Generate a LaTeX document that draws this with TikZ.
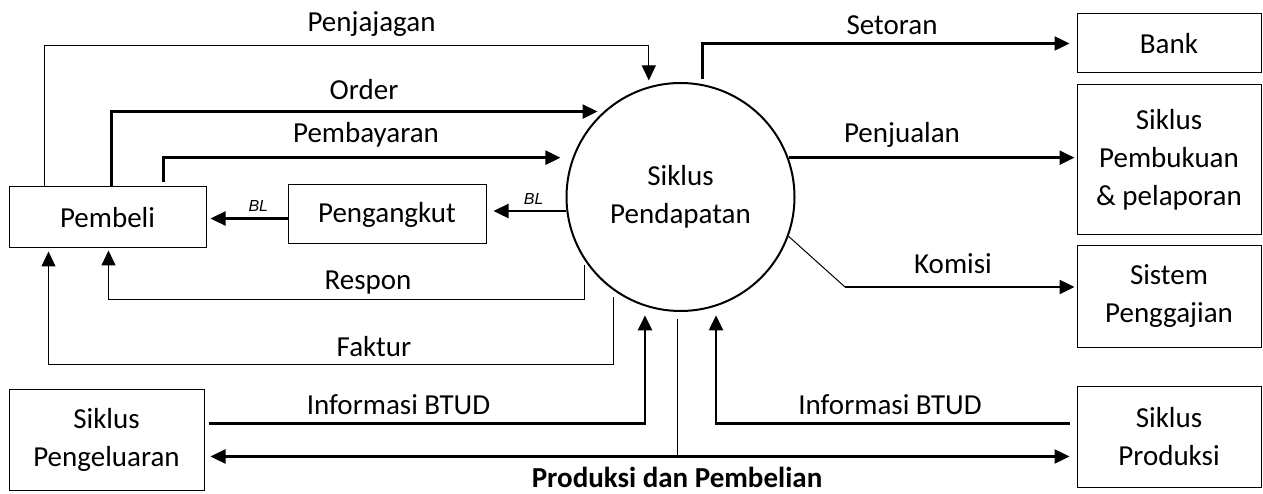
\documentclass[tikz,border=0pt]{standalone}
\usepackage{fontspec}
\setmainfont{Carlito}
\newfontfamily\blfont{Liberation Sans}
\usepackage{tikz}
\usetikzlibrary{arrows.meta, calc}

\begin{document}
\begin{tikzpicture}[x=1pt, y=-1pt,
    box/.style={draw, line width=1pt, inner sep=0pt, align=center, font=\fontsize{29}{38}\selectfont},
    thinline/.style={line width=1pt},
    thickline/.style={line width=2.4pt},
    arr/.style={-{Triangle[length=15pt,width=14pt]}},
    arrboth/.style={{Triangle[length=15pt,width=14pt]}-{Triangle[length=15pt,width=14pt]}},
    lbl/.style={anchor=base, inner sep=0pt, font=\fontsize{29}{35}\selectfont},
    bl/.style={inner sep=0pt, font=\blfont\itshape\fontsize{16}{18}\selectfont}]
  \useasboundingbox (0,0) rectangle (1263,494);

  % entities
  \node[box, minimum width=197pt, minimum height=61pt] (pembeli) at (107.5,217.5) {Pembeli};
  \node[box, minimum width=198pt, minimum height=59pt] (angkut) at (387,214.5) {Pengangkut};
  \node[box, minimum width=195pt, minimum height=101pt] (keluar) at (106.5,439.5) {Siklus\\Pengeluaran};
  \node[box, minimum width=184pt, minimum height=59pt] (bank) at (1169,43.5) {Bank};
  \node[box, minimum width=184pt, minimum height=150pt] (buku) at (1169,160) {Siklus\\Pembukuan\\\& pelaporan};
  \node[box, minimum width=184pt, minimum height=101pt] (gaji) at (1169,296.5) {Sistem\\Penggajian};
  \node[box, minimum width=184pt, minimum height=101pt] (produksi) at (1169,436.5) {Siklus\\Produksi};
  \node[box, circle, line width=2pt, minimum size=228pt] (siklus) at (680.5,197) {Siklus\\Pendapatan};

  % flows to and from Pembeli
  \draw[thinline, arr, shorten >=6pt] ([xshift=36pt]pembeli.north west) |- ([yshift=41pt]siklus.106) -- (siklus.106);
  \draw[thickline, arr, shorten >=6pt] ([xshift=103pt]pembeli.north west) |- (siklus.132);
  \draw[thickline, arr, shorten >=12pt] ([xshift=155pt,yshift=4pt]pembeli.north west) |- (siklus.160);
  \draw[thickline, arr, shorten >=4pt] ([yshift=-4pt]angkut.west) -- ([yshift=-4pt]angkut.west -| pembeli.east)
    node[bl, pos=0.36, above=6pt] (bl1) {BL};
  \draw[thickline, arr, shorten >=7pt] (siklus.187) -- (siklus.187 -| angkut.east)
    node[bl, pos=0.41, above=5pt] (bl2) {BL};
  \draw[thinline, arr, shorten >=2pt] ([xshift=-3pt]siklus.216) -- ++(0,35) -| ([xshift=100pt]pembeli.south west);
  \draw[thinline, arr, shorten >=3pt] ([xshift=-3pt,yshift=-5pt]siklus.236) -- ++(0,67) -| ([xshift=40pt]pembeli.south west);

  % flows to the right
  \draw[thickline, arr, shorten >=7pt] ([yshift=5pt]siklus.79) |- (bank.west);
  \draw[thickline, arr, shorten >=2pt] (siklus.20) -- (siklus.20 -| buku.west);
  \coordinate (kom) at (845,287);
  \draw[thinline] (siklus.340) -- (kom);
  \draw[thickline, arr, shorten >=2pt] (kom) -- (kom -| gaji.west);

  % flows at the bottom
  \draw[thickline, arr, shorten >=9pt] ([xshift=4pt,yshift=16pt]keluar.east) -| (siklus.252);
  \draw[thickline, arr, shorten >=9pt] ([xshift=-7pt,yshift=13pt]produksi.west) -| (siklus.288);
  \coordinate (pp) at ([xshift=6pt,yshift=-17pt]keluar.east);
  \draw[thickline, arrboth] (pp) -- ([xshift=-7pt]pp -| produksi.west);
  \draw[thinline] ([xshift=-3pt,yshift=-7pt]siklus.south) -- ([xshift=-3pt]siklus.south |- pp);

  % labels
  \foreach \n/\x/\y/\t in {penjajagan/371.5/32/Penjajagan, order/364/100/Order,
      pembayaran/366/143/Pembayaran, respon/368/290/Respon, faktur/374/356/Faktur,
      infokiri/398.5/414/Informasi BTUD, infokanan/890/414/Informasi BTUD,
      setoran/892/35/Setoran, penjualan/902/143/Penjualan, komisi/953/274/Komisi} {
    \node[lbl] (\n) at (\x,\y) {\t};
  }
  \node[lbl, font=\fontsize{29}{35}\selectfont\bfseries] (prodbeli) at (677,487) {Produksi dan Pembelian};
\end{tikzpicture}
\end{document}
